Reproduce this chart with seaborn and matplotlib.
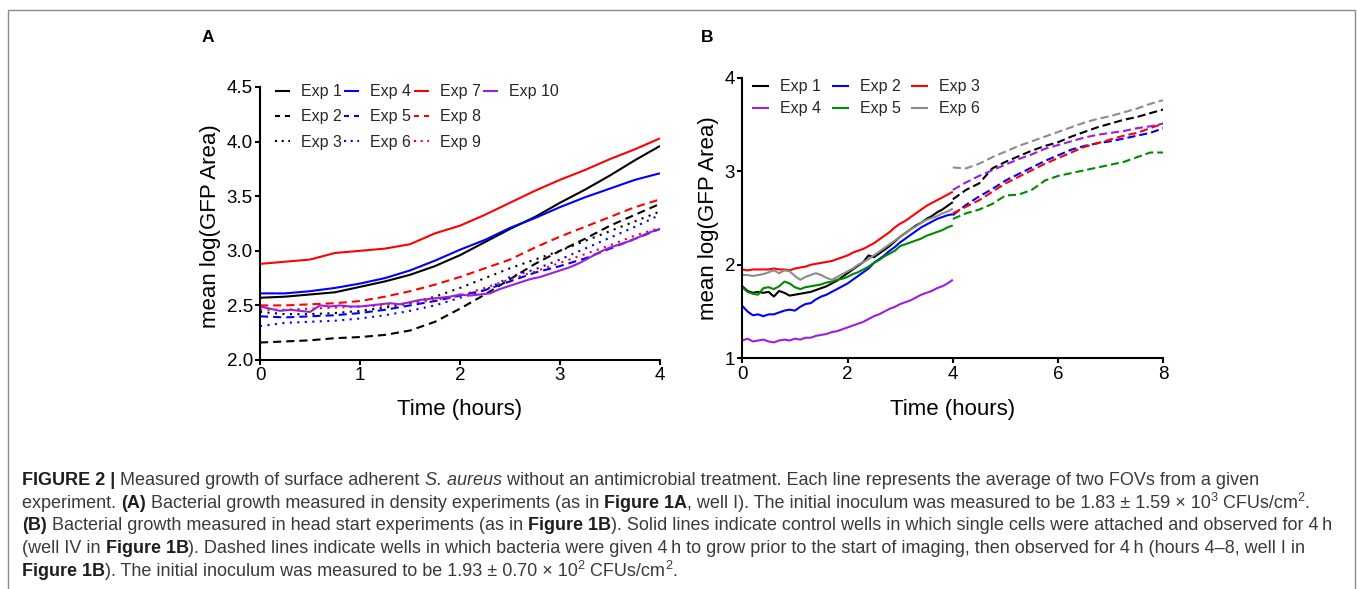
import numpy as np
import pandas as pd
import matplotlib
matplotlib.use("Agg")
import matplotlib.pyplot as plt
from matplotlib.font_manager import FontProperties
from matplotlib.patches import Rectangle
from matplotlib.lines import Line2D
import seaborn as sns

# ---------------- Panel A data (density experiments) ----------------
time_a = [0.0, 0.25, 0.5, 0.75, 1.0, 1.25, 1.5, 1.75, 2.0, 2.25, 2.5, 2.75, 3.0, 3.25, 3.5, 3.75, 4.0]
exp1_a = [2.57, 2.58, 2.60, 2.62, 2.67, 2.72, 2.78, 2.86, 2.96, 3.08, 3.20, 3.31, 3.44, 3.56, 3.69, 3.83, 3.96]
exp2_a = [2.16, 2.17, 2.18, 2.20, 2.21, 2.23, 2.27, 2.35, 2.47, 2.60, 2.74, 2.88, 3.00, 3.11, 3.23, 3.33, 3.43]
exp3_a = [2.44, 2.42, 2.42, 2.43, 2.45, 2.48, 2.52, 2.58, 2.66, 2.75, 2.84, 2.92, 3.00, 3.09, 3.18, 3.27, 3.36]
exp4_a = [2.61, 2.61, 2.63, 2.66, 2.70, 2.75, 2.82, 2.91, 3.01, 3.10, 3.21, 3.30, 3.40, 3.49, 3.57, 3.65, 3.71]
exp5_a = [2.40, 2.39, 2.40, 2.41, 2.43, 2.46, 2.50, 2.54, 2.59, 2.64, 2.72, 2.80, 2.86, 2.93, 3.02, 3.11, 3.20]
exp6_a = [2.31, 2.34, 2.35, 2.36, 2.38, 2.41, 2.45, 2.50, 2.57, 2.64, 2.76, 2.83, 2.92, 3.02, 3.12, 3.22, 3.33]
exp7_a = [2.88, 2.90, 2.92, 2.98, 3.00, 3.02, 3.06, 3.16, 3.23, 3.33, 3.44, 3.55, 3.65, 3.74, 3.84, 3.93, 4.03]
exp8_a = [2.50, 2.50, 2.51, 2.52, 2.54, 2.58, 2.63, 2.69, 2.76, 2.84, 2.92, 3.03, 3.13, 3.22, 3.31, 3.40, 3.47]
exp9_a = [2.46, 2.46, 2.47, 2.48, 2.49, 2.50, 2.52, 2.55, 2.59, 2.66, 2.74, 2.81, 2.89, 2.97, 3.05, 3.14, 3.21]
time_a10 = [0.0, 0.1, 0.2, 0.3, 0.4, 0.5, 0.6, 0.7, 0.8, 0.9, 1.0, 1.1, 1.2, 1.3, 1.4, 1.5, 1.6, 1.7, 1.8, 1.9, 2.0,
            2.1, 2.2, 2.3, 2.4, 2.5, 2.6, 2.7, 2.8, 2.9, 3.0, 3.1, 3.2, 3.3, 3.4, 3.5, 3.6, 3.7, 3.8, 3.9, 4.0]
exp10_a = [2.49, 2.47, 2.45, 2.46, 2.45, 2.44, 2.50, 2.49, 2.50, 2.49, 2.49, 2.50, 2.51, 2.52, 2.51, 2.53, 2.55, 2.56,
           2.57, 2.58, 2.60, 2.59, 2.60, 2.61, 2.65, 2.68, 2.71, 2.74, 2.76, 2.79, 2.82, 2.85, 2.89, 2.94, 2.99, 3.03,
           3.06, 3.09, 3.13, 3.17, 3.20]

labels_a = ["Exp 1", "Exp 2", "Exp 3", "Exp 4", "Exp 5", "Exp 6", "Exp 7", "Exp 8", "Exp 9", "Exp 10"]
xticks_a = [0, 1, 2, 3, 4]
yticks_a = [2.0, 2.5, 3.0, 3.5, 4.0, 4.5]

# ---------------- Panel B data (head start experiments) ----------------
time_b_solid = [0.0, 0.1, 0.2, 0.3, 0.4, 0.5, 0.6, 0.7, 0.8, 0.9, 1.0, 1.1, 1.2, 1.3, 1.4, 1.5, 1.6, 1.7, 1.8, 1.9, 2.0,
                2.1, 2.2, 2.3, 2.4, 2.5, 2.6, 2.7, 2.8, 2.9, 3.0, 3.1, 3.2, 3.3, 3.4, 3.5, 3.6, 3.7, 3.8, 3.9, 4.0]
exp1_b = [1.77, 1.72, 1.70, 1.71, 1.70, 1.71, 1.66, 1.72, 1.70, 1.67, 1.68, 1.69, 1.70, 1.71, 1.73, 1.75, 1.77, 1.80,
          1.83, 1.87, 1.91, 1.95, 1.99, 2.03, 2.10, 2.08, 2.12, 2.16, 2.20, 2.25, 2.30, 2.34, 2.38, 2.42, 2.45, 2.49,
          2.52, 2.56, 2.59, 2.63, 2.67]
exp2_b = [1.56, 1.50, 1.46, 1.47, 1.45, 1.47, 1.47, 1.49, 1.51, 1.52, 1.51, 1.55, 1.58, 1.59, 1.63, 1.66, 1.68, 1.71,
          1.74, 1.77, 1.80, 1.84, 1.88, 1.92, 1.96, 2.02, 2.06, 2.10, 2.15, 2.19, 2.24, 2.28, 2.32, 2.36, 2.40, 2.43,
          2.46, 2.49, 2.51, 2.53, 2.54]
exp3_b = [1.95, 1.94, 1.95, 1.95, 1.95, 1.95, 1.96, 1.95, 1.95, 1.94, 1.96, 1.97, 1.98, 2.00, 2.01, 2.02, 2.03, 2.04,
          2.06, 2.08, 2.10, 2.13, 2.15, 2.17, 2.20, 2.23, 2.27, 2.31, 2.35, 2.40, 2.44, 2.47, 2.51, 2.55, 2.59, 2.63,
          2.66, 2.69, 2.72, 2.75, 2.78]
exp4_b = [1.19, 1.21, 1.18, 1.19, 1.20, 1.18, 1.17, 1.19, 1.20, 1.19, 1.21, 1.20, 1.22, 1.22, 1.24, 1.25, 1.26, 1.28,
          1.29, 1.31, 1.33, 1.35, 1.37, 1.39, 1.42, 1.45, 1.47, 1.50, 1.53, 1.55, 1.58, 1.60, 1.62, 1.65, 1.68, 1.70,
          1.72, 1.75, 1.77, 1.80, 1.84]
exp5_b = [1.76, 1.71, 1.69, 1.68, 1.75, 1.76, 1.74, 1.77, 1.82, 1.80, 1.76, 1.74, 1.76, 1.77, 1.78, 1.79, 1.81, 1.82,
          1.84, 1.85, 1.87, 1.90, 1.92, 1.95, 1.98, 2.02, 2.05, 2.09, 2.12, 2.15, 2.20, 2.22, 2.24, 2.26, 2.28, 2.31,
          2.33, 2.35, 2.37, 2.40, 2.42]
exp6_b = [1.89, 1.89, 1.88, 1.89, 1.90, 1.92, 1.94, 1.91, 1.94, 1.93, 1.88, 1.84, 1.87, 1.89, 1.91, 1.89, 1.86, 1.84,
          1.87, 1.90, 1.93, 1.96, 2.00, 2.03, 2.06, 2.10, 2.14, 2.18, 2.22, 2.26, 2.30, 2.34, 2.38, 2.41, 2.45, 2.48,
          2.50, 2.52, 2.55, 2.57, 2.60]

time_b_dash = [4.0, 4.25, 4.5, 4.75, 5.0, 5.25, 5.5, 5.75, 6.0, 6.25, 6.5, 6.75, 7.0, 7.25, 7.5, 7.75, 8.0]
exp1_b_late = [2.70, 2.80, 2.87, 3.03, 3.10, 3.16, 3.22, 3.27, 3.31, 3.37, 3.42, 3.47, 3.51, 3.55, 3.58, 3.62, 3.66]
exp2_b_late = [2.53, 2.64, 2.73, 2.81, 2.90, 2.97, 3.04, 3.11, 3.17, 3.23, 3.27, 3.30, 3.32, 3.35, 3.38, 3.41, 3.46]
exp3_b_late = [2.55, 2.62, 2.69, 2.78, 2.87, 2.94, 3.01, 3.08, 3.14, 3.20, 3.26, 3.30, 3.34, 3.38, 3.41, 3.46, 3.51]
exp4_b_late = [2.80, 2.88, 2.95, 3.01, 3.07, 3.13, 3.18, 3.24, 3.28, 3.32, 3.36, 3.39, 3.41, 3.43, 3.46, 3.48, 3.51]
exp5_b_late = [2.49, 2.55, 2.59, 2.65, 2.74, 2.75, 2.80, 2.90, 2.95, 2.98, 3.01, 3.04, 3.07, 3.10, 3.15, 3.20, 3.20]
exp6_b_late = [3.04, 3.03, 3.08, 3.15, 3.21, 3.27, 3.32, 3.37, 3.42, 3.47, 3.52, 3.56, 3.59, 3.63, 3.67, 3.72, 3.76]

labels_b = ["Exp 1", "Exp 2", "Exp 3", "Exp 4", "Exp 5", "Exp 6"]
xticks_b = [0, 2, 4, 6, 8]
yticks_b = [1, 2, 3, 4]

# ---------------- style ----------------
sns.set_theme(style="ticks")
FAM = ["Liberation Sans", "DejaVu Sans"]
plt.rcParams["font.family"] = FAM
plt.rcParams["lines.solid_capstyle"] = "butt"
plt.rcParams["lines.dash_capstyle"] = "butt"

BLACK, BLUE, RED = "#000000", "#0000FF", "#FF0000"
PURPLE, GREEN, GRAY = "#9B1FE0", "#008A00", "#8C8C8C"
SOLID = "-"
DASH_A = (0, (3.9, 2.4))
DOT_A = (0, (1.0, 2.6))
DASH_B = (0, (3.9, 1.9))
LW = 1.5

W, H = 1357, 589
fig = plt.figure(figsize=(W / 100, H / 100), dpi=100)
fig.patch.set_facecolor("white")

axA = fig.add_axes([260 / W, 1 - 360 / H, 400 / W, 273 / H])
axB = fig.add_axes([742.3 / W, 1 - 358.3 / H, 421 / W, 280.6 / H])


def draw(ax, t, v, color, ls, label=None):
    df = pd.DataFrame({"t": t, "v": v})
    kw = dict(data=df, x="t", y="v", ax=ax, color=color, linewidth=LW,
              estimator=None, sort=False, linestyle=ls)
    if label is not None:
        kw["label"] = label
    sns.lineplot(**kw)
    return ax.lines[-1]


series_a = [
    (time_a, exp1_a, BLACK, SOLID), (time_a, exp2_a, BLACK, DASH_A), (time_a, exp3_a, BLACK, DOT_A),
    (time_a, exp4_a, BLUE, SOLID), (time_a, exp5_a, BLUE, DASH_A), (time_a, exp6_a, BLUE, DOT_A),
    (time_a, exp7_a, RED, SOLID), (time_a, exp8_a, RED, DASH_A), (time_a, exp9_a, RED, DOT_A),
    (time_a10, exp10_a, PURPLE, SOLID),
]
handles_a = []
for (t, v, c, ls), lab in zip(series_a, labels_a):
    handles_a.append(draw(axA, t, v, c, ls, lab))

colors_b = [BLACK, BLUE, RED, PURPLE, GREEN, GRAY]
solid_b = [exp1_b, exp2_b, exp3_b, exp4_b, exp5_b, exp6_b]
late_b = [exp1_b_late, exp2_b_late, exp3_b_late, exp4_b_late, exp5_b_late, exp6_b_late]
handles_b = []
for v, c, lab in zip(solid_b, colors_b, labels_b):
    handles_b.append(draw(axB, time_b_solid, v, c, SOLID, lab))
for v, c in zip(late_b, colors_b):
    draw(axB, time_b_dash, v, c, DASH_B)

# axes formatting
for ax in (axA, axB):
    sns.despine(ax=ax)
    for s in ("left", "bottom"):
        ax.spines[s].set_linewidth(1.5)
        ax.spines[s].set_color("black")
    ax.tick_params(axis="both", direction="out", length=3.4, width=1.5, color="black",
                   labelsize=13.5, labelcolor="black", pad=1.8)
    ax.set_facecolor("white")
    ax.grid(False)

axA.set_xlim(0, 4)
axA.set_ylim(2.0, 4.5)
axA.set_xticks(xticks_a)
axA.set_xticklabels([str(x) for x in xticks_a])
axA.set_yticks(yticks_a)
axA.set_yticklabels([f"{y:.1f}" for y in yticks_a])

axB.set_xlim(0, 8)
axB.set_ylim(1, 4)
axB.set_xticks(xticks_b)
axB.set_xticklabels([str(x) for x in xticks_b])
axB.set_yticks(yticks_b)
axB.set_yticklabels([str(y) for y in yticks_b])

for ax in (axA, axB):
    ax.set_xlabel("Time (hours)", fontsize=16, color="black")
    ax.set_ylabel("mean log(GFP Area)", fontsize=16, color="black")
axA.xaxis.set_label_coords(0.5, (360 - 399) / 273)
axA.yaxis.set_label_coords((221 - 260) / 400, 0.49)
axB.xaxis.set_label_coords(0.5, (358.3 - 399) / 280.6)
axB.yaxis.set_label_coords((719 - 742.3) / 421, 0.5)

# legends (blank spacers keep Exp 10 alone in the 4th column)
blank = Line2D([], [], linestyle="none")
legA = axA.legend(handles=handles_a + [blank, blank], labels=labels_a + ["", ""], ncol=4, loc="upper left",
                  bbox_to_anchor=(0.0375, 1.010), frameon=False, fontsize=11.5,
                  handlelength=0.94, handletextpad=0.69, columnspacing=0.15,
                  labelspacing=0.64, borderpad=0, borderaxespad=0)
# shorter dash/dot pattern in the legend keys
for h, (_, _, _, ls) in zip(legA.legend_handles[:10], series_a):
    if ls == DASH_A:
        h.set_dashes((2.4, 2.4))
    elif ls == DOT_A:
        h.set_dashes((1.0, 2.2))

order = [0, 3, 1, 4, 2, 5]
axB.legend(handles=[handles_b[i] for i in order], labels=[labels_b[i] for i in order],
           ncol=3, loc="upper left", bbox_to_anchor=(0.023, 0.995), frameon=False,
           fontsize=11.5, handlelength=1.06, handletextpad=0.69, columnspacing=0.67,
           labelspacing=0.44, borderpad=0, borderaxespad=0)

# panel letters
fig.text(208 / W, 1 - 38 / H, "A", fontsize=12.5, fontweight="bold", ha="center", va="center", color="black")
fig.text(707 / W, 1 - 38 / H, "B", fontsize=12.5, fontweight="bold", ha="center", va="center", color="black")

# outer frame
fig.patches.append(Rectangle((8 / W, -0.02), (1355 - 8) / W, 1 - 10 / H + 0.02,
                             transform=fig.transFigure, fill=False, edgecolor="#8a8a8a", linewidth=1.0))

# ---------------- caption ----------------
caption = [
    [("FIGURE 2 |", "b"), (" Measured growth of surface adherent ", "n"), ("S. aureus", "i"),
     (" without an antimicrobial treatment. Each line represents the average of two FOVs from a given", "n")],
    [("experiment. ", "n"), ("(A)", "b"), (" Bacterial growth measured in density experiments (as in ", "n"),
     ("Figure 1A", "b"), (", well I). The initial inoculum was measured to be 1.83 \u00b1 1.59 \u00d7 10", "n"),
     ("3", "s"), (" CFUs/cm", "n"), ("2", "s"), (".", "n")],
    [("(B)", "b"), (" Bacterial growth measured in head start experiments (as in ", "n"), ("Figure 1B", "b"),
     ("). Solid lines indicate control wells in which single cells were attached and observed for 4\u2009h", "n")],
    [("(well IV in ", "n"), ("Figure 1B", "b"),
     ("). Dashed lines indicate wells in which bacteria were given 4\u2009h to grow prior to the start of imaging, "
      "then observed for 4\u2009h (hours 4\u20138, well I in", "n")],
    [("Figure 1B", "b"), ("). The initial inoculum was measured to be 1.93 \u00b1 0.70 \u00d7 10", "n"),
     ("2", "s"), (" CFUs/cm", "n"), ("2", "s"), (".", "n")],
]

renderer = fig.canvas.get_renderer()


def fp_for(style, size):
    if style == "b":
        return FontProperties(family=FAM, size=size, weight="bold")
    if style == "i":
        return FontProperties(family=FAM, size=size, style="italic")
    if style == "s":
        return FontProperties(family=FAM, size=size * 0.7)
    return FontProperties(family=FAM, size=size)


def run_width(txt, fp):
    w1, _, _ = renderer.get_text_width_height_descent("|" + txt + "|", fp, ismath=False)
    w2, _, _ = renderer.get_text_width_height_descent("||", fp, ismath=False)
    return w1 - w2


base = 12.0
w_first = sum(run_width(t, fp_for(s, base)) for t, s in caption[0])
cap_size = base * (1257 - 22) / w_first

baselines = [485, 507.7, 530.4, 553.1, 575.8]
for line, yb in zip(caption, baselines):
    x = 22.0
    for txt, st in line:
        fp = fp_for(st, cap_size)
        dy = 0.36 * cap_size * 100 / 72 if st == "s" else 0.0
        color = "#1e1e1e" if st == "b" else "#3a3a3a"
        fig.text(x / W, 1 - (yb - dy) / H, txt, fontproperties=fp, color=color,
                 ha="left", va="baseline")
        x += run_width(txt, fp)

fig.savefig("out.png", dpi=100, facecolor="white")
